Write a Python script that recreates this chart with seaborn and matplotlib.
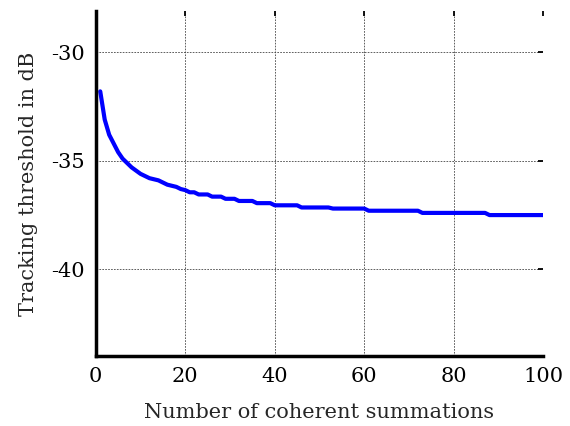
import numpy as np
import pandas as pd
import matplotlib
matplotlib.use('Agg')
import matplotlib.pyplot as plt
import seaborn as sns

# number of coherent summations and tracking threshold (dB)
summations = list(range(1, 101))
threshold = [
    -31.8, -33.1, -33.8, -34.2, -34.6, -34.9, -35.1, -35.3, -35.45, -35.6,
    -35.7, -35.8, -35.85, -35.9, -36.0, -36.1, -36.15, -36.2, -36.3, -36.35,
    -36.45, -36.45, -36.55, -36.55, -36.55, -36.65, -36.65, -36.65, -36.75, -36.75,
    -36.75, -36.85, -36.85, -36.85, -36.85, -36.95, -36.95, -36.95, -36.95, -37.05,
    -37.05, -37.05, -37.05, -37.05, -37.05, -37.15, -37.15, -37.15, -37.15, -37.15,
    -37.15, -37.15, -37.2, -37.2, -37.2, -37.2, -37.2, -37.2, -37.2, -37.2,
    -37.3, -37.3, -37.3, -37.3, -37.3, -37.3, -37.3, -37.3, -37.3, -37.3,
    -37.3, -37.3, -37.4, -37.4, -37.4, -37.4, -37.4, -37.4, -37.4, -37.4,
    -37.4, -37.4, -37.4, -37.4, -37.4, -37.4, -37.4, -37.5, -37.5, -37.5,
    -37.5, -37.5, -37.5, -37.5, -37.5, -37.5, -37.5, -37.5, -37.5, -37.5,
]
x_ticks = [0, 20, 40, 60, 80, 100]
y_ticks = [-30, -35, -40]

data = pd.DataFrame({'n': summations, 'thr': threshold})

sns.set_style('white')
plt.rcParams['font.family'] = ['DejaVu Serif']
plt.rcParams['axes.unicode_minus'] = False

fig = plt.figure(figsize=(5.7, 4.26), dpi=100)
ax = fig.add_axes([0.168, 0.164, 0.785, 0.810])

sns.lineplot(data=data, x='n', y='thr', color='#0000ff', linewidth=3, ax=ax)

ax.set_xlim(0, 100)
ax.set_ylim(-44, -28.1)
ax.set_xticks(x_ticks)
ax.set_yticks(y_ticks)
ax.grid(True, color='#444444', linestyle=(0, (2, 1.5)), linewidth=0.6)
ax.tick_params(direction='in', length=3.5, width=1.3, labelsize=15,
               top=True, right=True, pad=8, colors='black')

for side in ['top', 'right']:
    ax.spines[side].set_visible(False)
for side in ['left', 'bottom']:
    ax.spines[side].set_linewidth(2.5)
    ax.spines[side].set_color('black')

ax.set_xlabel('Number of coherent summations', fontsize=15, labelpad=12)
ax.set_ylabel('Tracking threshold in dB', fontsize=15, labelpad=9)

fig.savefig('out.png', dpi=100)
